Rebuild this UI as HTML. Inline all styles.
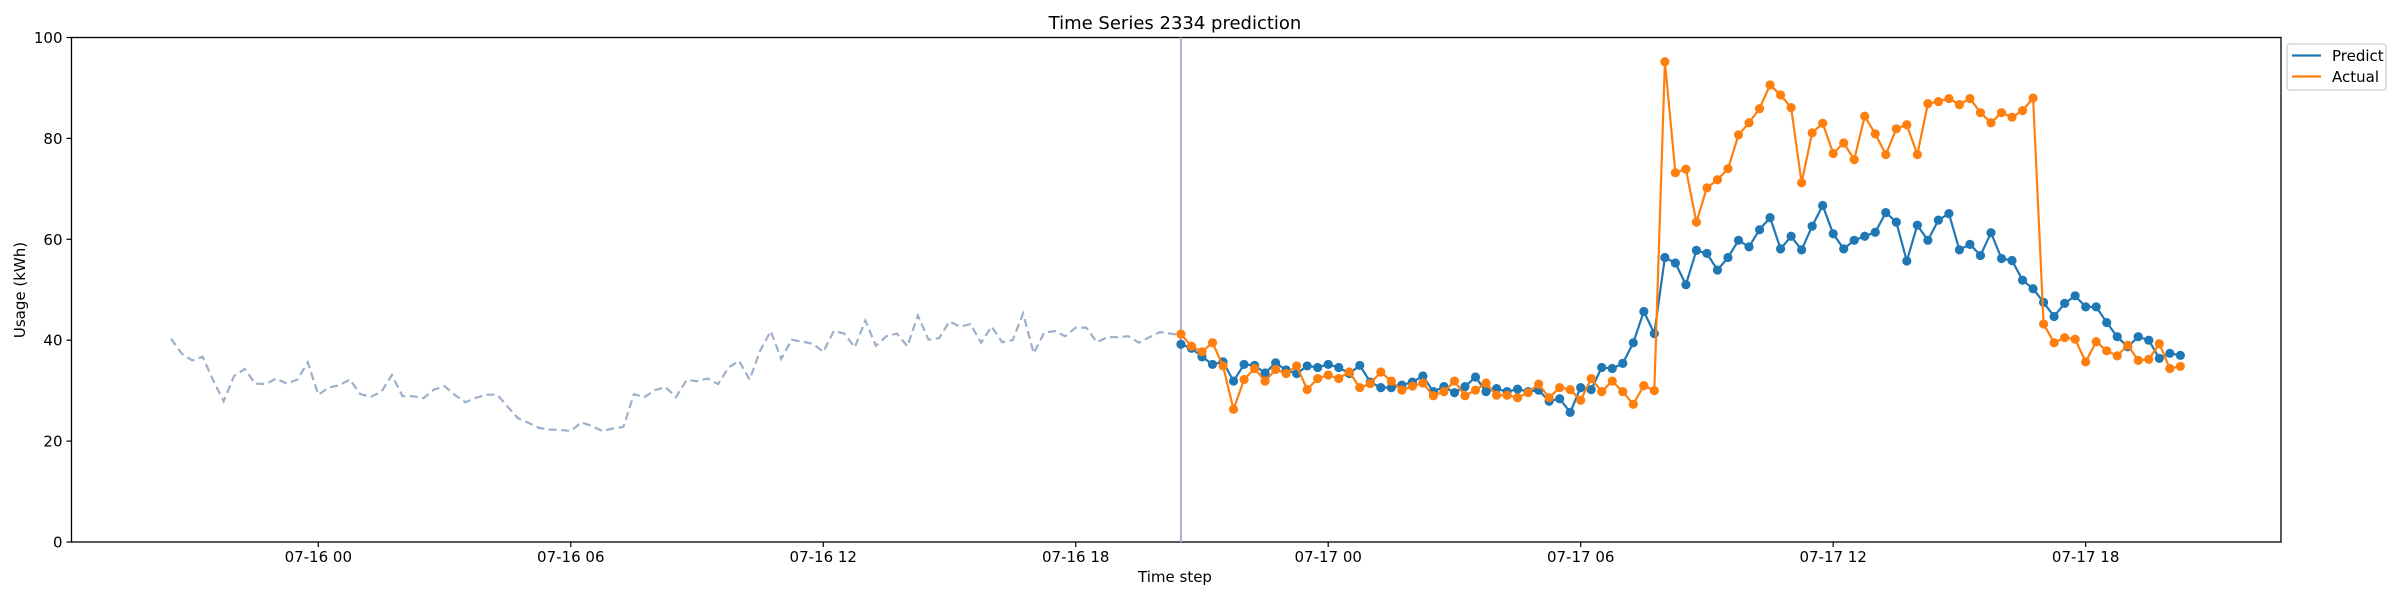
<!DOCTYPE html>
<html><head><meta charset="utf-8"><style>
body{margin:0;background:#fff;}
svg{display:block;font-family:"DejaVu Sans","Liberation Sans",sans-serif;}
</style></head><body>
<svg id="chart" width="2400" height="600" viewBox="0 0 2400 600">
<text x="1175" y="29" font-size="18" text-anchor="middle">Time Series 2334 prediction</text>
<g id="axes"></g>
<g id="marks"></g>
<text x="1175" y="582" font-size="15" text-anchor="middle">Time step</text>
<text x="0" y="0" font-size="15" text-anchor="middle" transform="translate(25,290) rotate(-90)">Usage (kWh)</text>
<g>
<rect x="2287" y="44" width="99" height="46" rx="3" fill="#fff" stroke="#d0d0d0" stroke-width="1.3"/>
<g><line x1="2292" y1="55.5" x2="2321" y2="55.5" stroke="#1f77b4" stroke-width="2.2"/><text x="2332" y="61" font-size="15">Predict</text></g>
<g><line x1="2292" y1="76.5" x2="2321" y2="76.5" stroke="#ff7f0e" stroke-width="2.2"/><text x="2332" y="82" font-size="15">Actual</text></g>
</g>
</svg>
<script>
const history = [40.3,37.4,36.0,36.7,32.1,27.9,32.9,34.3,31.4,31.3,32.4,31.4,32.2,35.6,29.2,30.6,31.1,32.2,29.3,28.8,29.8,33.1,28.9,28.9,28.5,30.2,30.9,29.1,27.7,28.6,29.2,29.2,26.8,24.5,23.6,22.6,22.3,22.2,22.0,23.7,23.0,22.0,22.5,22.8,29.3,28.7,30.1,
30.7,28.7,32.1,31.9,32.4,31.3,34.6,35.9,32.2,37.9,41.8,36.3,40.1,39.7,39.3,37.7,41.8,41.3,38.6,43.9,38.9,40.8,41.3,38.8,44.9,40.1,40.4,43.7,42.7,43.2,39.5,42.7,39.6,40.0,45.3,37.4,41.5,41.8,40.8,42.5,42.5,39.6,40.6,40.6,40.8,39.5,40.6,41.6,41.3,41.0];
const predict = [39.2,38.4,36.7,35.2,35.7,31.9,35.2,35.0,33.5,35.5,34.1,33.4,34.9,34.6,35.2,34.6,33.4,35.0,31.7,30.6,30.6,31.1,31.7,32.9,29.8,30.8,29.6,30.8,32.7,29.8,30.4,29.8,30.3,29.8,30.1,27.9,28.4,25.7,30.6,30.2,34.6,34.4,35.4,39.5,45.7,41.3,
56.4,55.3,51.0,57.8,57.2,53.9,56.4,59.8,58.5,61.9,64.3,58.1,60.6,57.9,62.6,66.7,61.1,58.1,59.8,60.6,61.4,65.3,63.4,55.7,62.8,59.8,63.8,65.1,57.9,59.0,56.8,61.3,56.2,55.8,
51.9,50.2,47.5,44.7,47.3,48.8,46.6,46.6,43.5,40.7,38.7,40.7,40.0,36.4,37.4,37.0];
const actual = [41.2,38.8,37.7,39.5,34.9,26.3,32.2,34.4,31.9,34.2,33.4,34.9,30.2,32.4,33.1,32.4,33.7,30.6,31.4,33.7,31.9,30.1,30.9,31.5,29.0,29.8,31.9,29.0,30.1,31.5,29.1,29.1,28.6,29.6,31.3,28.6,30.6,30.2,28.1,32.4,29.8,31.9,29.8,27.3,31.0,30.0,
95.2,73.2,73.9,63.4,70.2,71.8,74.0,80.7,83.1,85.9,90.6,88.6,86.1,71.2,81.1,83.0,77.0,79.1,75.8,84.4,80.9,76.8,81.9,82.7,76.8,86.9,87.3,87.9,86.7,87.9,85.1,83.1,85.1,84.2,
85.5,88.0,43.2,39.5,40.5,40.2,35.7,39.7,37.9,36.9,39.0,36.0,36.2,39.3,34.4,34.8];
const yTicks = [0,20,40,60,80,100];
const xTickLabels = ["07-16 00","07-16 06","07-16 12","07-16 18","07-17 00","07-17 06","07-17 12","07-17 18"];
const xTickHours = [0,6,12,18,24,30,36,42];
const historyStartHour = -3.5, forecastStartHour = 20.5, stepHours = 0.25;

const L=71.5,R=2281,T=37.5,B=542;
const HX0=318.3, HPX=42.08;
const xs = h => HX0 + h*HPX;
const ys = v => B - (v/100)*(B-T);
const NS="http://www.w3.org/2000/svg";
const axes=document.getElementById('axes'), marks=document.getElementById('marks');
function mk(tag, attrs, parent){const e=document.createElementNS(NS,tag);for(const k in attrs)e.setAttribute(k,attrs[k]);parent.appendChild(e);return e;}

const frame=mk('rect',{x:L,y:T,width:R-L,height:B-T,fill:'none',stroke:'#000','stroke-width':1.3},axes);


yTicks.forEach(v=>{
  const y=ys(v);
  const t=mk('line',{x1:L-5,y1:y,x2:L,y2:y,stroke:'#000','stroke-width':1.2},axes);
  
  
  const lb=mk('text',{x:L-9,y:y+5.5,'font-size':15,'text-anchor':'end'},axes);
  lb.textContent=v;
  
  
});
xTickHours.forEach((h,i)=>{
  const x=xs(h);
  const t=mk('line',{x1:x,y1:B,x2:x,y2:B+5,stroke:'#000','stroke-width':1.2},axes);
  
  
  const lb=mk('text',{x:x,y:562,'font-size':15,'text-anchor':'middle'},axes);
  lb.textContent=xTickLabels[i];
  
  
});

const hp=history.map((v,i)=>xs(historyStartHour+i*stepHours).toFixed(1)+','+ys(v).toFixed(1)).join(' ');
const hl=mk('polyline',{points:hp,fill:'none',stroke:'#9db0cb','stroke-width':2.2,'stroke-dasharray':'8,4.5'},marks);



const vx=xs(forecastStartHour);
const vl=mk('line',{x1:vx,y1:T,x2:vx,y2:B,stroke:'#a6b2d6','stroke-width':2},marks);



function series(data,color,name){
  const g=mk('g',{},marks);
  
  
  const pts=data.map((v,i)=>xs(forecastStartHour+i*stepHours).toFixed(1)+','+ys(v).toFixed(1)).join(' ');
  const pl=mk('polyline',{points:pts,fill:'none',stroke:color,'stroke-width':2.2},g);
  
  
  data.forEach((v,i)=>{
    const c=mk('circle',{cx:xs(forecastStartHour+i*stepHours),cy:ys(v),r:4.6,fill:color},g);
    
    
  });
}
series(predict,'#1f77b4','predict');
series(actual,'#ff7f0e','actual');
</script>
</body></html>
